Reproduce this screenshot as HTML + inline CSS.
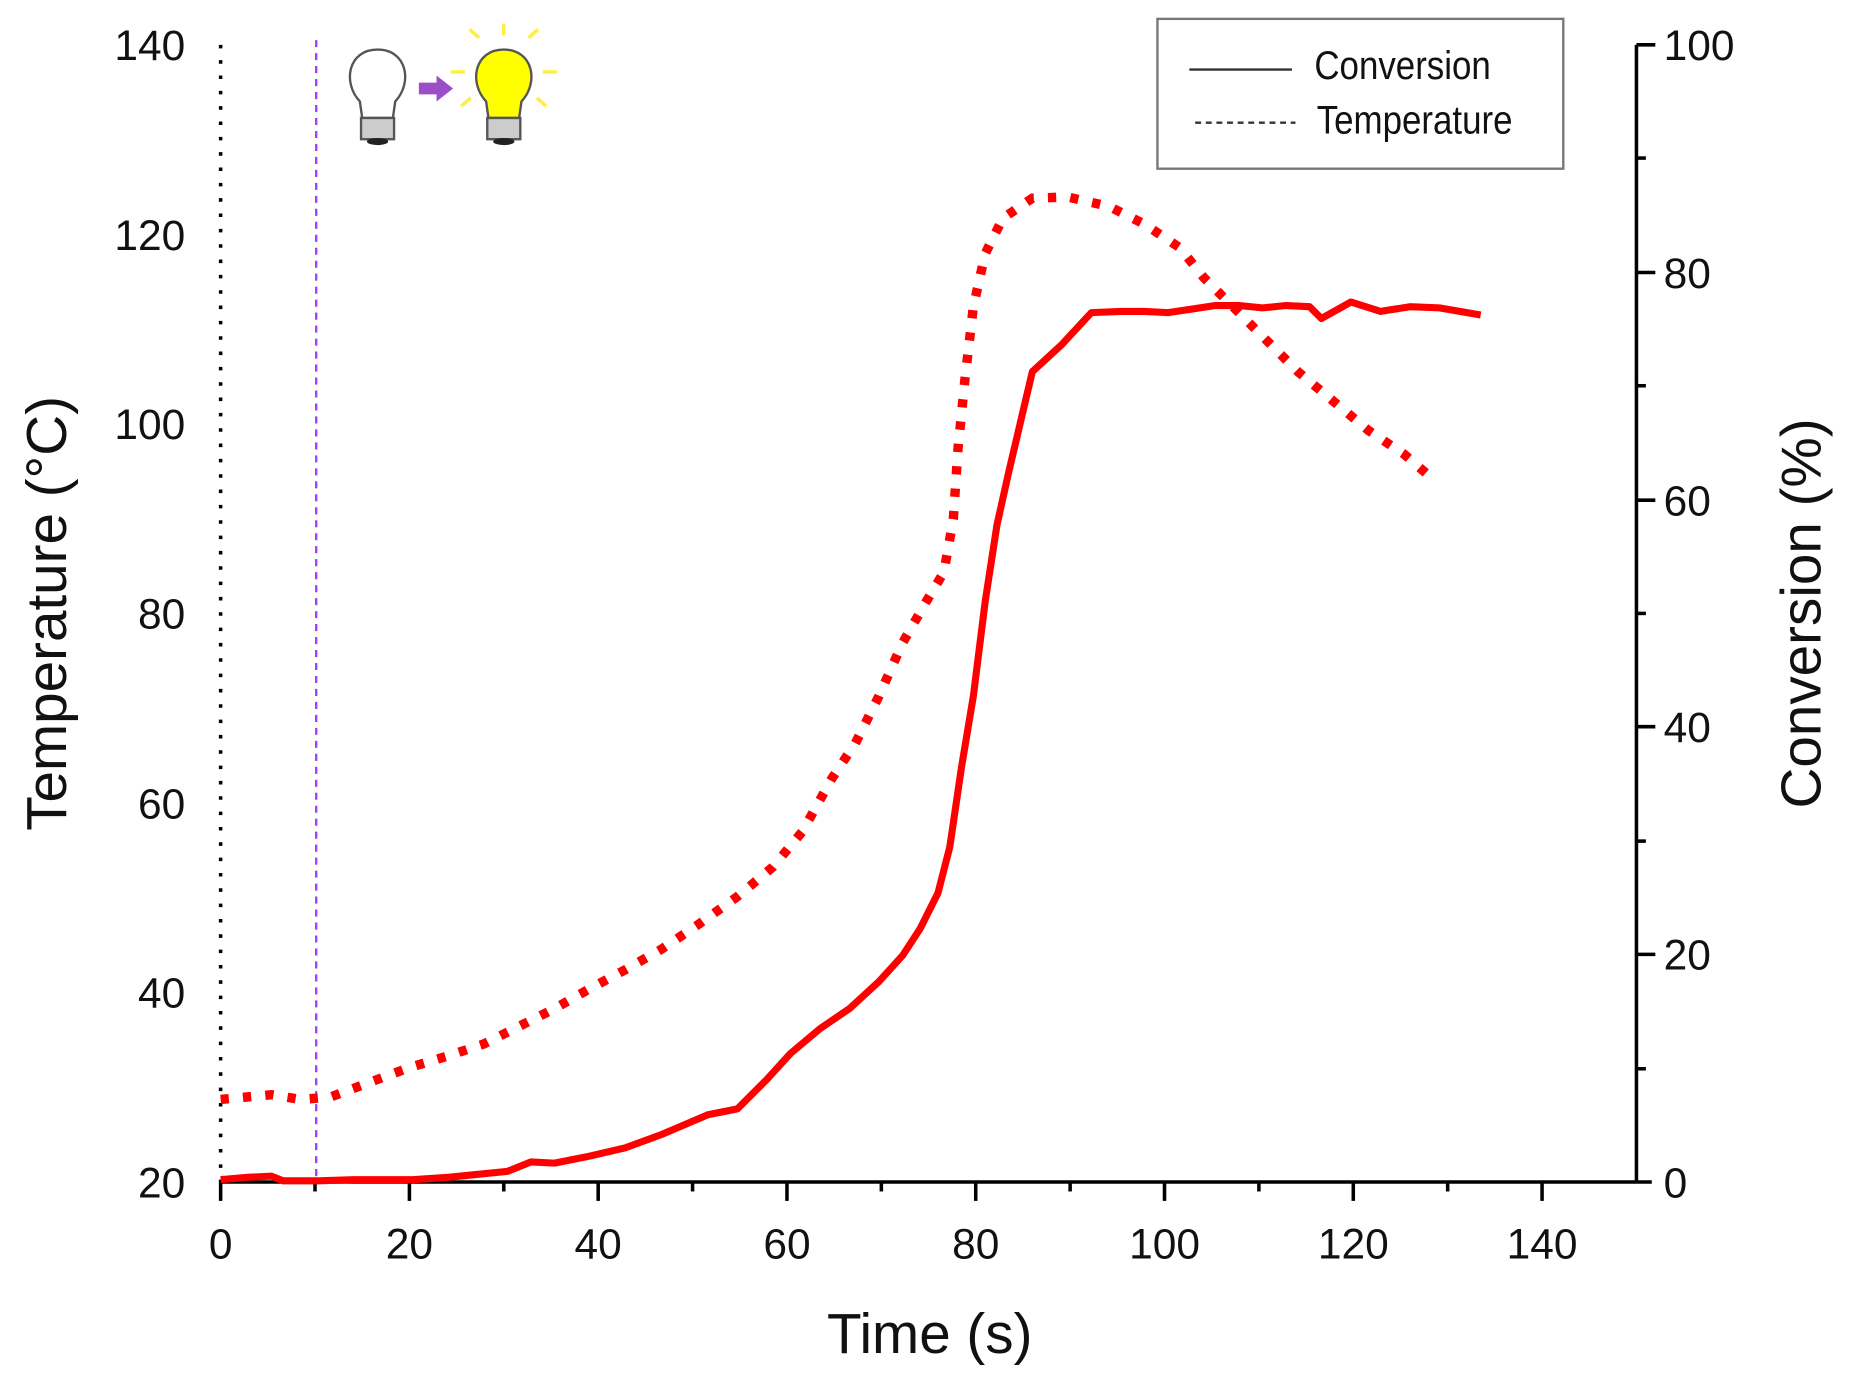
<!DOCTYPE html>
<html><head><meta charset="utf-8"><style>
html,body{margin:0;padding:0;background:#fff;}
svg{display:block;}
text{font-family:"Liberation Sans",Arial,sans-serif;fill:#111;}
</style></head><body>
<svg width="1850" height="1392" viewBox="0 0 1568 1180" preserveAspectRatio="none" xmlns="http://www.w3.org/2000/svg">
<line x1="187" y1="38" x2="187" y2="1002" stroke="#000" stroke-width="3" stroke-dasharray="3 10"/>
<line x1="268" y1="34" x2="268" y2="1002" stroke="#a040ff" stroke-width="2" stroke-dasharray="6 5"/>
<line x1="187" y1="1002" x2="1400" y2="1002" stroke="#000" stroke-width="3"/>
<g stroke="#000" stroke-width="3">
<line x1="187" y1="1002" x2="187" y2="1018"/><line x1="347" y1="1002" x2="347" y2="1018"/><line x1="507" y1="1002" x2="507" y2="1018"/><line x1="667" y1="1002" x2="667" y2="1018"/><line x1="827" y1="1002" x2="827" y2="1018"/><line x1="987" y1="1002" x2="987" y2="1018"/><line x1="1147" y1="1002" x2="1147" y2="1018"/><line x1="1307" y1="1002" x2="1307" y2="1018"/>
<line x1="267" y1="1002" x2="267" y2="1010"/><line x1="427" y1="1002" x2="427" y2="1010"/><line x1="587" y1="1002" x2="587" y2="1010"/><line x1="747" y1="1002" x2="747" y2="1010"/><line x1="907" y1="1002" x2="907" y2="1010"/><line x1="1067" y1="1002" x2="1067" y2="1010"/><line x1="1227" y1="1002" x2="1227" y2="1010"/>
<line x1="1387" y1="38" x2="1387" y2="1002"/>
<line x1="1387" y1="38" x2="1403" y2="38"/><line x1="1387" y1="231" x2="1403" y2="231"/><line x1="1387" y1="424" x2="1403" y2="424"/><line x1="1387" y1="616" x2="1403" y2="616"/><line x1="1387" y1="809" x2="1403" y2="809"/>
<line x1="1387" y1="134" x2="1395" y2="134"/><line x1="1387" y1="327" x2="1395" y2="327"/><line x1="1387" y1="520" x2="1395" y2="520"/><line x1="1387" y1="713" x2="1395" y2="713"/><line x1="1387" y1="906" x2="1395" y2="906"/>
</g>
<g font-size="36" text-anchor="end">
<text x="157" y="51">140</text><text x="157" y="212">120</text><text x="157" y="372">100</text><text x="157" y="533">80</text><text x="157" y="694">60</text><text x="157" y="854">40</text><text x="157" y="1015">20</text>
</g>
<g font-size="36" text-anchor="start">
<text x="1410" y="51">100</text><text x="1410" y="244">80</text><text x="1410" y="437">60</text><text x="1410" y="629">40</text><text x="1410" y="822">20</text><text x="1410" y="1015">0</text>
</g>
<g font-size="36" text-anchor="middle">
<text x="187" y="1067">0</text><text x="347" y="1067">20</text><text x="507" y="1067">40</text><text x="667" y="1067">60</text><text x="827" y="1067">80</text><text x="987" y="1067">100</text><text x="1147" y="1067">120</text><text x="1307" y="1067">140</text>
</g>
<text x="788" y="1147" font-size="48" text-anchor="middle">Time (s)</text>
<text transform="translate(56,520) rotate(-90)" font-size="48" text-anchor="middle">Temperature (°C)</text>
<text transform="translate(1543,520) rotate(-90)" font-size="48" text-anchor="middle">Conversion (%)</text>
<polyline fill="none" stroke="#ff0000" stroke-width="8" stroke-dasharray="7 12" points="187,932 230,928 255,932 280,930 320,915 347,905 380,895 410,885 440,870 470,855 500,838 530,822 560,805 590,785 625,760 655,735 680,705 705,660 725,630 745,590 765,545 785,510 800,485 808,440 812,380 818,320 825,260 835,215 850,185 875,168 905,167 940,175 970,190 1000,210 1020,235 1045,260 1070,285 1100,315 1130,340 1160,365 1190,385 1212,404"/>
<polyline fill="none" stroke="#ff0000" stroke-width="6" stroke-linejoin="round" points="187,1000 210,998 230,997 240,1001 270,1001 300,1000 350,1000 380,998 400,996 430,993 450,985 470,986 500,980 530,973 560,962 600,945 625,940 650,915 670,893 695,872 720,855 745,832 765,810 780,787 795,757 805,718 815,650 825,590 835,510 845,445 855,400 875,315 900,292 925,265 950,264 970,264 990,265 1010,262 1030,259 1050,259 1070,261 1090,259 1110,260 1120,270 1145,256 1170,264 1195,260 1220,261 1255,267"/>
<rect x="981" y="16" width="344" height="127" fill="#fff" stroke="#777" stroke-width="2"/>
<line x1="1008" y1="59" x2="1095" y2="59" stroke="#333" stroke-width="2"/>
<line x1="1013" y1="104" x2="1098" y2="104" stroke="#333" stroke-width="2" stroke-dasharray="5 4"/>
<text font-size="34" transform="translate(1114,67) scale(0.87,1)">Conversion</text>
<text font-size="34" transform="translate(1116,113) scale(0.87,1)">Temperature</text>
<g stroke="#555" stroke-width="2">
<path d="M305,86 C290,70 295,42 320,42 C345,42 350,70 335,86 L333,100 L307,100 Z" fill="#fff"/>
<rect x="306" y="100" width="28" height="18" fill="#ccc"/>
<path d="M412,86 C397,70 402,42 427,42 C452,42 457,70 442,86 L440,100 L414,100 Z" fill="#ffff00"/>
<rect x="413" y="100" width="28" height="18" fill="#ccc"/>
</g>
<ellipse cx="320" cy="120" rx="9" ry="3" fill="#222"/>
<ellipse cx="427" cy="120" rx="9" ry="3" fill="#222"/>
<path d="M355,70 L370,70 L370,64 L384,75 L370,86 L370,80 L355,80 Z" fill="#9a4fc8"/>
<g stroke="#ffee44" stroke-width="3">
<line x1="427" y1="20" x2="427" y2="30"/><line x1="448" y1="32" x2="456" y2="25"/><line x1="406" y1="32" x2="398" y2="25"/>
<line x1="460" y1="61" x2="472" y2="61"/><line x1="394" y1="61" x2="382" y2="61"/>
<line x1="455" y1="83" x2="463" y2="90"/><line x1="399" y1="83" x2="391" y2="90"/>
</g>
</svg>
</body></html>
